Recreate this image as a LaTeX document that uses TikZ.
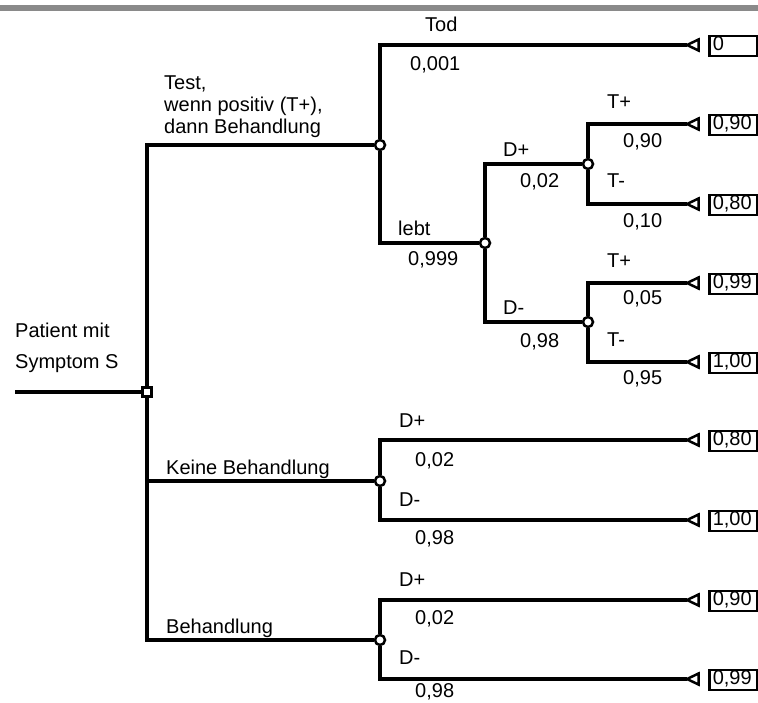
\documentclass[tikz,border=0pt]{standalone}
\usepackage{fontspec}
\setmainfont{Liberation Sans}
\usepackage{tikz}
\usetikzlibrary{positioning}
\definecolor{rulegray}{HTML}{8A8A8A}
\pgfdeclarelayer{background}
\pgfsetlayers{background,main}
\tikzset{branch/.style={line width=3.5pt}, decision/.style={draw,fill=white,line width=2.5pt,minimum size=9pt,inner sep=0pt}, chance/.style={circle,draw,fill=white,line width=2.5pt,minimum size=10pt,inner sep=0pt}, payoff/.style={draw,line width=2.5pt,anchor=west,text width=40.5pt,align=left,inner xsep=3.5pt,inner ysep=1pt,text height=13.5pt,text depth=4.5pt,font=\fontsize{20}{24}\selectfont}, lab/.style={anchor=base west,inner sep=0pt,font=\fontsize{20}{24}\selectfont}, endtri/.pic={\draw[line width=2.5pt,fill=white] (0,0) -- (11.5,-5.5) -- (11.5,5.5) -- cycle;}}

\begin{document}
\begin{tikzpicture}[x=1pt,y=-1pt]
\useasboundingbox (0,0) rectangle (758,702);
\fill[rulegray] (0,5) rectangle (758,11);
\coordinate (start) at (15,392);
\node[decision] (d) at (147,392) {};
\node[chance] (c1) at (380,145) {};
\node[chance] (c2) at (485,243) {};
\node[chance] (c3) at (588,164) {};
\node[chance] (c4) at (588,322) {};
\node[chance] (c5) at (380,481) {};
\node[chance] (c6) at (380,640) {};
\foreach \i/\y/\v in {1/45/0,2/124/{0,90},3/204/{0,80},4/283/{0,99},5/362/{1,00},6/440/{0,80},7/520/{1,00},8/600/{0,90},9/679/{0,99}}{
  \coordinate (t\i) at (687,\y);
  \pic at (t\i) {endtri};
  \node[payoff] (p\i) at (708,\y+1) {\v};
}
\begin{pgfonlayer}{background}
\draw[branch] (start) -- (d);
\draw[branch] (d) |- (c1);
\draw[branch] (d) |- (c5);
\draw[branch] (d) |- (c6);
\draw[branch] (c1) |- (t1);
\draw[branch] (c1) |- (c2);
\draw[branch] (c2) |- (c3);
\draw[branch] (c2) |- (c4);
\draw[branch] (c3) |- (t2);
\draw[branch] (c3) |- (t3);
\draw[branch] (c4) |- (t4);
\draw[branch] (c4) |- (t5);
\draw[branch] (c5) |- (t6);
\draw[branch] (c5) |- (t7);
\draw[branch] (c6) |- (t8);
\draw[branch] (c6) |- (t9);
\end{pgfonlayer}
\node[lab,anchor=north west,align=left,font=\fontsize{20}{31}\selectfont] (patient) at (15,322.5) {Patient mit\\Symptom S};
\node[lab,anchor=north west,align=left,font=\fontsize{20}{22}\selectfont] (test) at (164,75.5) {Test,\\wenn positiv (T+),\\dann Behandlung};
\node[lab] (keine) at (166,474) {Keine Behandlung};
\node[lab] (behandl) at (166,633) {Behandlung};
\node[lab] (tod) at (425,31) {Tod};
\node[lab] (ptod) at (410,70) {0,001};
\node[lab] (lebt) at (398,235) {lebt};
\node[lab] (plebt) at (408,265) {0,999};
\node[lab] (dplusA) at (503,156) {D+};
\node[lab] (pdplusA) at (520,187) {0,02};
\node[lab] (dminusA) at (503,314) {D-};
\node[lab] (pdminusA) at (520,347) {0,98};
\node[lab] (tplusA) at (607,108) {T+};
\node[lab] (ptplusA) at (623,147) {0,90};
\node[lab] (tminusA) at (607,187) {T-};
\node[lab] (ptminusA) at (623,227) {0,10};
\node[lab] (tplusB) at (607,267) {T+};
\node[lab] (ptplusB) at (623,304) {0,05};
\node[lab] (tminusB) at (607,346) {T-};
\node[lab] (ptminusB) at (623,384) {0,95};
\node[lab] (dplusB) at (399,427) {D+};
\node[lab] (pdplusB) at (415,466) {0,02};
\node[lab] (dminusB) at (399,506) {D-};
\node[lab] (pdminusB) at (415,544) {0,98};
\node[lab] (dplusC) at (399,586) {D+};
\node[lab] (pdplusC) at (415,624) {0,02};
\node[lab] (dminusC) at (399,664) {D-};
\node[lab] (pdminusC) at (415,697) {0,98};
\end{tikzpicture}
\end{document}
